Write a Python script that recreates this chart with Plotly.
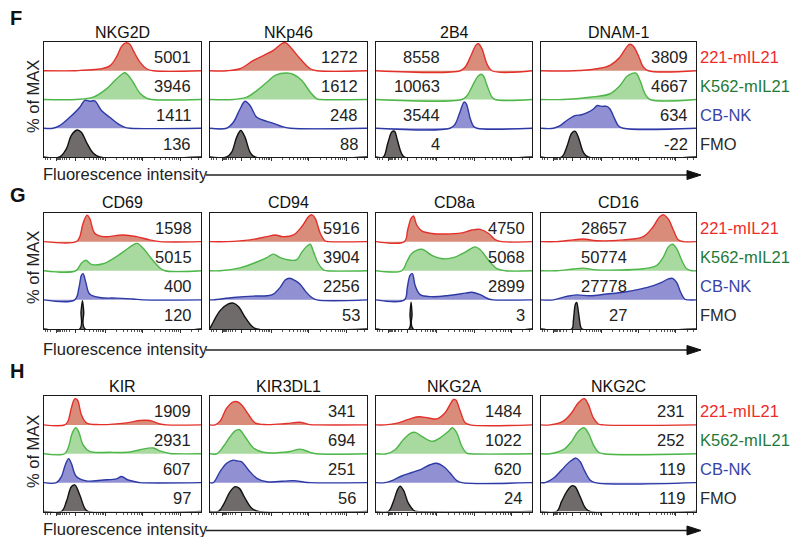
import math
import plotly.graph_objects as go

# ---------------- data ----------------
MARKERS = ["NKG2D", "NKp46", "2B4", "DNAM-1",
           "CD69", "CD94", "CD8a", "CD16",
           "KIR", "KIR3DL1", "NKG2A", "NKG2C"]
GROUPS = ["221-mIL21", "K562-mIL21", "CB-NK", "FMO"]
ROW_LETTERS = ["F", "G", "H"]

# each curve: [fluorescence position (0-100 of axis), % of MAX (0-100)]
NKG2D_CURVES = [
    [[20,0],[24.9,2],[35.5,6],[41.9,17],[46.2,48],[49.4,85],[52.1,97],[54.7,92],[56.8,71],[61.1,30],[65.3,7],[69.6,0]],
    [[20.6,0],[31.3,8],[39.8,37],[45.1,66],[49.4,87],[51.5,93],[53.6,84],[56.8,60],[61.1,22],[65.3,5],[68.5,0]],
    [[5.7,0],[10,9],[16.4,38],[22.8,73],[26,97],[29.1,94],[32.3,95],[36.6,62],[41.9,38],[47.2,15],[51.5,3],[54.7,0]],
    [[10,0],[14.3,29],[17.4,75],[21.1,94],[23.8,86],[27,52],[31.3,14],[35.5,0]],
]
NKP46_CURVES = [
    [[10.6,0],[19.1,7],[27.7,36],[34,53],[40.4,71],[45.7,94],[47.9,98],[51.1,83],[57.4,42],[63.8,7],[68.1,0]],
    [[14.9,0],[23.4,8],[29.8,31],[36.2,60],[41.5,84],[48.9,92],[53.2,87],[58.5,66],[63.8,26],[68.1,2],[70.2,0]],
    [[10.6,0],[14.9,21],[19.1,67],[22.3,94],[25.5,79],[29.8,38],[36.2,24],[40.4,17],[45.7,6],[51.1,0]],
    [[10.6,0],[13.8,17],[17,69],[19.6,92],[22.3,69],[25.5,17],[28.7,0]],
]
B2B4_CURVES = [
    [[54,0],[57.2,13],[61,54],[64.2,90],[65.7,94],[67.9,77],[71.1,24],[74.3,0]],
    [[55,0],[58.2,12],[61.5,44],[64.7,76],[67.2,88],[69,81],[71.1,50],[74.3,9],[76.4,0]],
    [[47.5,0],[50.7,14],[53.5,51],[56.5,91],[57.8,86],[60.4,34],[62.5,7],[64.7,0]],
    [[4.7,0],[7.5,47],[10.1,87],[11.8,90],[13.7,59],[16,17],[18.2,0]],
]
DNAM1_CURVES = [
    [[20.9,0],[35.9,7],[44.5,19],[51,48],[55.3,83],[57.4,92],[59.6,85],[62.8,53],[66,13],[69.2,0]],
    [[14.4,0],[31.6,8],[44.5,20],[51,49],[55.3,80],[58.5,90],[61.3,92],[63.9,66],[67.1,20],[70.3,0]],
    [[8,0],[12.3,9],[16.6,27],[21.9,44],[26.2,47],[30.5,56],[33.8,67],[36.3,79],[39.1,76],[42.4,76],[44.5,67],[47.1,38],[49.9,9],[53.1,0]],
    [[13.3,0],[16.6,35],[19.8,83],[21.9,90],[24.1,69],[27.3,17],[30.5,0]],
]
CD69_CURVES = [
    [[20.6,0],[22.8,17],[24.9,63],[27.4,91],[29.1,80],[32.3,29],[37.7,17],[50.4,23],[59,17],[67.4,6],[73.8,0]],
    [[20.2,0],[23.8,26],[26.6,36],[30.2,22],[37.7,24],[45.1,45],[51.5,69],[56.8,89],[59.4,94],[63.2,77],[68.5,41],[73.8,10],[77,0]],
    [[19.6,0],[22.3,43],[23.8,84],[24.9,90],[26.6,61],[29.1,20],[35.5,8],[46.2,6],[56.8,3],[63.2,0]],
    [[22.8,0],[23.6,60],[24.5,97],[25.3,60],[26.2,0]],
]
CD94_CURVES = [
    [[10.6,0],[25.5,6],[36.2,17],[41.5,23],[46.2,17],[53.2,23],[58.5,52],[62.8,86],[64.9,92],[67,80],[70.2,29],[73.4,2],[75.5,0]],
    [[6.4,0],[19.1,10],[29.8,30],[36.2,45],[40.4,57],[44.7,45],[51.1,36],[55.3,38],[58.5,64],[61.7,84],[63.8,91],[66,64],[69.1,24],[72.3,3],[74.5,0]],
    [[2.1,0],[14.9,8],[27.7,13],[36.2,14],[40.4,20],[44.7,43],[47.9,68],[50.6,74],[54.3,66],[57.4,54],[60.6,31],[64.9,8],[68.1,0]],
    [[0,2],[2.1,24],[6.4,63],[11.7,86],[14.9,89],[18.1,77],[22.3,41],[26.6,10],[29.8,0]],
]
CD8A_CURVES = [
    [[18.2,0],[20.3,40],[22.5,80],[24,88],[26.1,57],[29.3,37],[35.8,28],[44.3,26],[55,30],[61.5,40],[66.8,42],[72.2,28],[76.4,7],[80.7,0]],
    [[16.5,0],[19.7,30],[22.9,59],[29.3,74],[35.8,53],[43.3,41],[50.7,47],[57.2,64],[63.6,82],[66.8,72],[72.2,36],[77.5,7],[82.9,0]],
    [[18.2,0],[20.1,44],[21.8,84],[23.3,90],[25.1,49],[28.3,18],[35.8,11],[46.5,15],[57.2,23],[61.5,26],[66.8,18],[72.2,3],[75.4,0]],
    [[21.2,0],[21.8,52],[22.5,92],[23.1,52],[23.8,0]],
]
CD16_CURVES = [
    [[10.1,0],[20.9,6],[27.3,9],[35.9,3],[53.1,6],[66,17],[72.5,52],[76.3,84],[78.9,92],[82.2,77],[85.4,40],[88.6,6],[91.8,0]],
    [[10.1,0],[20.9,6],[27.3,9],[35.9,3],[66,7],[74.6,18],[78.9,47],[82.2,82],[84.9,91],[87.5,76],[90.8,36],[94,7],[97.2,0]],
    [[8,0],[16.6,12],[23,17],[31.6,14],[42.4,20],[53.1,26],[63.9,37],[72.5,49],[77.8,60],[82.2,72],[84.9,74],[87.5,60],[90.1,26],[92.9,2],[95.1,0]],
    [[19.8,0],[20.9,30],[22.2,86],[23,91],[24.3,52],[25.6,8],[26.5,0]],
]
KIR_CURVES = [
    [[13.2,0],[15.3,13],[17.4,58],[19.6,90],[21.3,86],[23.8,35],[27,7],[35.5,1],[52.6,7],[61.1,15],[67.4,15],[73.8,3],[78.1,0]],
    [[13.2,0],[15.7,25],[17.9,70],[20.2,90],[22.1,76],[24.9,31],[29.1,8],[41.9,5],[54.7,6],[61.1,14],[69.6,20],[73.8,10],[80.2,1],[83.4,0]],
    [[7.9,0],[11.1,21],[13.6,62],[15.7,83],[17.4,67],[20.6,21],[27,6],[37.7,9],[46.2,13],[49.4,21],[53.6,9],[59,2],[61.1,0]],
    [[11.1,0],[14.3,35],[17.4,86],[19.6,92],[22.8,57],[26,11],[28.1,0]],
]
KIR3DL1_CURVES = [
    [[3.2,0],[6.4,13],[10.6,58],[14.9,80],[17.4,80],[20.2,69],[24.5,36],[28.7,7],[36.2,1],[48.9,5],[57.4,9],[63.8,1],[68.1,0]],
    [[4.3,0],[8.5,25],[12.8,59],[16,79],[18.7,83],[22.3,59],[27.7,20],[34,5],[51.1,8],[57.4,16],[63.8,5],[68.1,0]],
    [[2.1,0],[6.4,38],[10.6,67],[14.9,78],[17.4,75],[20.2,72],[24.5,44],[29.8,15],[36.2,3],[53.2,7],[59.6,2],[63.8,0]],
    [[5.3,0],[8.5,23],[12.8,69],[16,86],[18.7,80],[22.3,46],[26.6,11],[30.9,0]],
]
NKG2A_CURVES = [
    [[5.8,0],[14.3,7],[20.8,19],[27.2,28],[33.6,24],[39,21],[44.3,42],[47.5,71],[49.7,88],[51.2,86],[54,48],[57.2,7],[60.4,0]],
    [[6.9,0],[12.2,14],[17.6,49],[21.8,70],[25.1,74],[29.3,60],[35.8,43],[41.1,55],[46.5,78],[49,90],[51.8,72],[55,26],[58.2,2],[60.4,0]],
    [[5.8,0],[11.1,9],[16.5,23],[22.9,35],[29.3,47],[34.7,62],[39,67],[43.3,56],[47.5,33],[51.8,7],[55,0]],
    [[7.9,0],[11.1,34],[13.7,74],[15.4,88],[17.6,74],[20.8,28],[24.6,2],[26.1,0]],
]
NKG2C_CURVES = [
    [[5.8,0],[14.4,13],[19.8,42],[24.1,77],[28,91],[30.5,71],[33.8,24],[37,3],[40.2,0]],
    [[5.8,0],[14.4,14],[19.8,43],[24.1,78],[27.7,90],[30.5,72],[33.8,31],[37,6],[40.2,0]],
    [[2.6,0],[8,15],[13.3,44],[18.7,73],[22.6,85],[25.2,73],[28.4,38],[31.6,9],[34.8,0]],
    [[10.1,0],[13.3,35],[16.6,69],[19.8,89],[21.9,86],[25.2,52],[28.4,14],[31.6,0]],
]
PANEL_CURVES = [NKG2D_CURVES, NKP46_CURVES, B2B4_CURVES, DNAM1_CURVES,
                CD69_CURVES, CD94_CURVES, CD8A_CURVES, CD16_CURVES,
                KIR_CURVES, KIR3DL1_CURVES, NKG2A_CURVES, NKG2C_CURVES]

# MFI values per panel: 221-mIL21, K562-mIL21, CB-NK, FMO
MFI = [
    ["5001", "3946", "1411", "136"],
    ["1272", "1612", "248", "88"],
    ["8558", "10063", "3544", "4"],
    ["3809", "4667", "634", "-22"],
    ["1598", "5015", "400", "120"],
    ["5916", "3904", "2256", "53"],
    ["4750", "5068", "2899", "3"],
    ["28657", "50774", "27778", "27"],
    ["1909", "2931", "607", "97"],
    ["341", "694", "251", "56"],
    ["1484", "1022", "620", "24"],
    ["231", "252", "119", "119"],
]

# ---------------- layout / style ----------------
W, H = 792, 537
FONT = "Liberation Sans, Arial, sans-serif"
FS = 16.5
COL_L = [44, 210, 376, 541]
COL_R = [201, 367, 532, 696]
ROW_T = [42, 212.5, 396]
ROW_B = [157, 329, 511.5]
NUM_RIGHT = [95, 95.5, 42, 96, 95.5, 96.5, 97, 57, 95, 94, 95, 94]
LINE_COL = ["#e3302b", "#4db648", "#2d3aa6", "#111111"]
FILL_COL = ["#d98c79", "#a8d99f", "#9090d2", "#6f6b6b"]
LABEL_COL = ["#ee2b2b", "#1f7a38", "#3843a6", "#2a2a2a"]
NUM_COL = "#222222"

MAJOR = [8, 20, 39, 63, 87]
MINOR = []
for a, b in [(20, 39), (39, 63), (63, 87)]:
    MINOR += [a + (b - a) * math.log10(k) for k in range(2, 10)]
MINOR += [87 + 24 * math.log10(k) for k in range(2, 10) if 87 + 24 * math.log10(k) < 99.5]
MINOR += [20 - 12 * math.log10(k) for k in range(2, 10)]
MINOR += [8 - 12 * math.log10(k) for k in range(2, 5) if 8 - 12 * math.log10(k) > 0.5]


def py(p):
    return 1 - p / H


fig = go.Figure()
layout = dict(width=W, height=H, margin=dict(l=0, r=0, t=0, b=0),
              paper_bgcolor="white", plot_bgcolor="white", showlegend=False,
              font=dict(family=FONT, size=FS, color="#111"))
annotations = []
shapes = []

for i, name in enumerate(MARKERS):
    r, c = divmod(i, 4)
    k = i + 1
    xs = "" if k == 1 else str(k)
    layout["xaxis" + xs] = dict(
        domain=[COL_L[c] / W, COL_R[c] / W], range=[0, 100], anchor="y" + xs,
        showline=True, mirror=True, linecolor="#1a1a1a", linewidth=1,
        showgrid=False, zeroline=False, showticklabels=False,
        ticks="outside", tickmode="array", tickvals=MAJOR, ticklen=3,
        tickcolor="#333", tickwidth=1,
        minor=dict(tickmode="array", tickvals=MINOR, ticks="outside", ticklen=2,
                   tickcolor="#555", tickwidth=1, showgrid=False),
        fixedrange=True)
    layout["yaxis" + xs] = dict(
        domain=[py(ROW_B[r]), py(ROW_T[r])], range=[0, 4], anchor="x" + xs,
        showline=True, mirror=True, linecolor="#1a1a1a", linewidth=1,
        showgrid=False, zeroline=False, showticklabels=False, ticks="",
        fixedrange=True)

    for j, curve in enumerate(PANEL_CURVES[i]):
        off = 3 - j
        pts = list(curve)
        if pts[0][0] > 0:
            pts = [[0, 0]] + pts
        if pts[-1][0] < 100:
            pts = pts + [[100, 0]]
        fig.add_trace(go.Scatter(x=[0, 100], y=[off, off], mode="lines",
                                 line=dict(width=0, color=LINE_COL[j]),
                                 hoverinfo="skip", xaxis="x" + xs, yaxis="y" + xs))
        fig.add_trace(go.Scatter(x=[p[0] for p in pts], y=[off + p[1] / 100 for p in pts],
                                 mode="lines", fill="tonexty", fillcolor=FILL_COL[j],
                                 line=dict(color=LINE_COL[j], width=1.4, shape="spline", smoothing=1),
                                 hoverinfo="skip", xaxis="x" + xs, yaxis="y" + xs))
        annotations.append(dict(x=NUM_RIGHT[i], y=off + 0.5, xref="x" + xs, yref="y" + xs,
                                text=MFI[i][j], showarrow=False, xanchor="right",
                                yanchor="middle", yshift=-1,
                                font=dict(family=FONT, size=FS, color=NUM_COL)))

    annotations.append(dict(x=(COL_L[c] + COL_R[c]) / 2 / W, y=py(ROW_T[r] - 10),
                            xref="paper", yref="paper", text=name, showarrow=False,
                            xanchor="center", yanchor="middle",
                            font=dict(family=FONT, size=16, color="#111")))

LETTER_Y = [18, 195, 371]
PCT_Y = [97, 268, 452]
FI_Y = [173.5, 348.5, 529]
ARROW_Y = [175, 350, 530.5]
for r in range(3):
    annotations.append(dict(x=8 / W, y=py(LETTER_Y[r]), xref="paper", yref="paper",
                            text="<b>%s</b>" % ROW_LETTERS[r], showarrow=False,
                            xanchor="left", yanchor="middle",
                            font=dict(family=FONT, size=20, color="#111")))
    annotations.append(dict(x=33 / W, y=py(PCT_Y[r]), xref="paper", yref="paper",
                            text="% of MAX", textangle=-90, showarrow=False,
                            xanchor="center", yanchor="middle",
                            font=dict(family=FONT, size=FS, color="#222")))
    annotations.append(dict(x=41 / W, y=py(FI_Y[r]), xref="paper", yref="paper",
                            text="Fluorescence intensity", showarrow=False,
                            xanchor="left", yanchor="middle",
                            font=dict(family=FONT, size=FS, color="#222")))
    lane_h = (ROW_B[r] - ROW_T[r]) / 4
    for j, g in enumerate(GROUPS):
        annotations.append(dict(x=698 / W, y=py(ROW_T[r] + (j + 0.5) * lane_h + 1),
                                xref="paper", yref="paper", text=g, showarrow=False,
                                xanchor="left", yanchor="middle",
                                font=dict(family=FONT, size=FS, color=LABEL_COL[j])))
    ay = ARROW_Y[r]
    shapes.append(dict(type="line", xref="paper", yref="paper",
                       x0=206 / W, x1=690 / W, y0=py(ay), y1=py(ay),
                       line=dict(color="#222", width=1.3)))
    shapes.append(dict(type="path", xref="paper", yref="paper",
                       path="M %f %f L %f %f L %f %f Z" % (687 / W, py(ay - 4.5), 701 / W, py(ay),
                                                          687 / W, py(ay + 4.5)),
                       fillcolor="#111", line=dict(color="#111", width=1)))

layout["annotations"] = annotations
layout["shapes"] = shapes
fig.update_layout(**layout)
fig.write_html("out.html", config={"displayModeBar": False},
               post_script="document.body.style.margin='0';document.body.style.overflow='hidden';")
